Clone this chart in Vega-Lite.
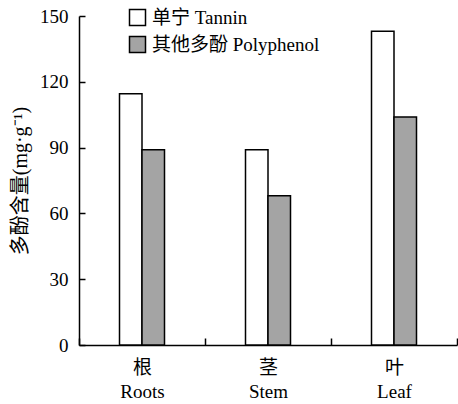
{
  "$schema": "https://vega.github.io/schema/vega-lite/v6.json",
  "autosize": "none",
  "width": 378,
  "height": 329,
  "padding": {"left": 79, "top": 16, "right": 1, "bottom": 59},
  "background": "white",
  "config": {
    "font": "Liberation Serif, Noto Sans CJK SC",
    "view": {"stroke": null}
  },
  "data": {
    "values": [
      {"part": "根 Roots", "type": "单宁 Tannin", "value": 114.5},
      {"part": "根 Roots", "type": "其他多酚 Polyphenol", "value": 89},
      {"part": "茎 Stem", "type": "单宁 Tannin", "value": 89},
      {"part": "茎 Stem", "type": "其他多酚 Polyphenol", "value": 68},
      {"part": "叶 Leaf", "type": "单宁 Tannin", "value": 143},
      {"part": "叶 Leaf", "type": "其他多酚 Polyphenol", "value": 104}
    ]
  },
  "mark": {"type": "bar", "stroke": "black", "strokeWidth": 1.5},
  "encoding": {
    "x": {
      "field": "part",
      "type": "nominal",
      "sort": ["根 Roots", "茎 Stem", "叶 Leaf"],
      "scale": {"paddingInner": 0, "paddingOuter": 0},
      "axis": {
        "title": null,
        "labelAngle": 0,
        "labelExpr": "split(datum.label, ' ')",
        "labelFontSize": 19,
        "labelColor": "black",
        "labelLineHeight": 24,
        "labelPadding": 20,
        "tickBand": "extent",
        "tickSize": -7,
        "tickColor": "black",
        "tickWidth": 1.5,
        "domainColor": "black",
        "domainWidth": 1.5
      }
    },
    "xOffset": {
      "field": "type",
      "type": "nominal",
      "sort": ["单宁 Tannin", "其他多酚 Polyphenol"],
      "scale": {"paddingInner": 0, "paddingOuter": 0, "range": [40.5, 85.5]}
    },
    "y": {
      "field": "value",
      "type": "quantitative",
      "scale": {"domain": [0, 150]},
      "axis": {
        "title": "多酚含量(mg·g⁻¹)",
        "titleFontSize": 20,
        "titleFontWeight": "normal",
        "titleColor": "black",
        "titlePadding": 9,
        "values": [0, 30, 60, 90, 120, 150],
        "grid": false,
        "labelFontSize": 19,
        "labelColor": "black",
        "labelPadding": 17,
        "tickSize": -6,
        "tickColor": "black",
        "tickWidth": 1.5,
        "domainColor": "black",
        "domainWidth": 1.5
      }
    },
    "fill": {
      "field": "type",
      "type": "nominal",
      "sort": ["单宁 Tannin", "其他多酚 Polyphenol"],
      "scale": {"range": ["white", "#a4a4a4"]},
      "legend": {
        "title": null,
        "orient": "none",
        "legendX": 49,
        "legendY": -8,
        "symbolType": "square",
        "symbolSize": 256,
        "symbolStrokeColor": "black",
        "symbolStrokeWidth": 1.5,
        "labelFontSize": 19,
        "labelColor": "black",
        "labelOffset": 5,
        "rowPadding": 4,
        "labelLimit": 400
      }
    }
  }
}
